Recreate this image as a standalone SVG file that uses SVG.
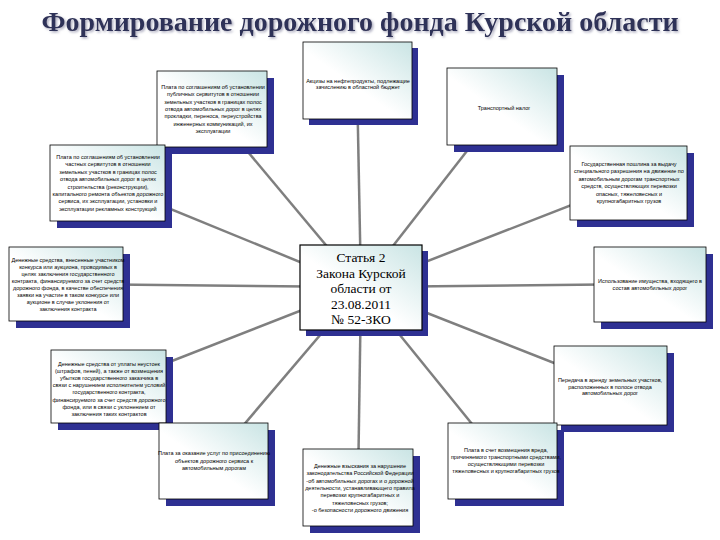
<svg xmlns="http://www.w3.org/2000/svg" width="720" height="540" viewBox="0 0 720 540">
<defs>
<linearGradient id="fill" x1="0" y1="1" x2="1" y2="0">
<stop offset="0" stop-color="#ffffff"/>
<stop offset="0.45" stop-color="#ffffff"/>
<stop offset="1" stop-color="#c9e4e4"/>
</linearGradient>
<filter id="ts" x="-5%" y="-20%" width="110%" height="150%">
<feDropShadow dx="1.5" dy="1.5" stdDeviation="0.8" flood-color="#9a9ab0" flood-opacity="0.8"/>
</filter>
</defs>
<style>
.sh{fill:#2e3092}
.bx{fill:url(#fill);stroke:#000;stroke-width:0.8}
.t{font-family:"Liberation Sans",Arial,sans-serif;font-size:5.5px;fill:#000;text-anchor:middle}
.c{font-family:"Liberation Serif","Times New Roman",serif;font-size:13.5px;fill:#000;text-anchor:middle}
.title{font-family:"Liberation Serif","Times New Roman",serif;font-size:28px;font-weight:bold;fill:#2f3258;text-anchor:middle}
.ln{stroke:#7f7f7f;stroke-width:2.5;fill:none}
</style>
<rect width="720" height="540" fill="#ffffff"/>
<text class="title" x="360" y="31" filter="url(#ts)">Формирование дорожного фонда Курской области</text>
<g id="connectors">
<line class="ln" x1="361" y1="287" x2="357" y2="80"/>
<line class="ln" x1="361" y1="287" x2="212" y2="109"/>
<line class="ln" x1="361" y1="287" x2="502" y2="106"/>
<line class="ln" x1="361" y1="287" x2="107" y2="183"/>
<line class="ln" x1="361" y1="287" x2="628" y2="183"/>
<line class="ln" x1="361" y1="287" x2="66" y2="284"/>
<line class="ln" x1="361" y1="287" x2="650" y2="284"/>
<line class="ln" x1="361" y1="287" x2="108" y2="386"/>
<line class="ln" x1="361" y1="287" x2="610" y2="385"/>
<line class="ln" x1="361" y1="287" x2="213" y2="461"/>
<line class="ln" x1="361" y1="287" x2="358" y2="487"/>
<line class="ln" x1="361" y1="287" x2="502" y2="461"/>
</g>
<g id="center">
<rect class="sh" x="306" y="251" width="122" height="85"/>
<rect x="300" y="245" width="122" height="85" fill="url(#fill)" stroke="#000" stroke-width="1.2"/>
<text class="c" x="361" y="262"><tspan x="361">Статья 2</tspan><tspan x="361" dy="15.5">Закона Курской</tspan><tspan x="361" dy="15.5">области от</tspan><tspan x="361" dy="15.5">23.08.2011</tspan><tspan x="361" dy="15.5">№ 52-ЗКО</tspan></text>
</g>
<g id="a">
<rect class="sh" x="309" y="48" width="109" height="77"/>
<rect class="bx" x="303" y="42" width="109" height="77"/>
<text class="t" y="83"><tspan x="358">Акцизы на нефтепродукты, подлежащие</tspan><tspan x="358" dy="6">зачислению в областной бюджет</tspan></text>
</g>
<g id="b">
<rect class="sh" x="164" y="78" width="110" height="76"/>
<rect class="bx" x="157" y="71" width="110" height="76"/>
<text class="t" y="89"><tspan x="213">Плата по соглашениям об установлении</tspan><tspan x="213" dy="7.3">публичных сервитутов в отношении</tspan><tspan x="213" dy="7.3">земельных участков в границах полос</tspan><tspan x="213" dy="7.3">отвода автомобильных дорог в целях</tspan><tspan x="213" dy="7.3">прокладки, переноса, переустройства</tspan><tspan x="213" dy="7.3">инженерных коммуникаций, их</tspan><tspan x="213" dy="7.3">эксплуатации</tspan></text>
</g>
<g id="c">
<rect class="sh" x="454" y="75" width="110" height="77"/>
<rect class="bx" x="447" y="68" width="110" height="77"/>
<text class="t" x="504" y="110">Транспортный налог</text>
</g>
<g id="d">
<rect class="sh" x="57" y="152" width="115" height="76"/>
<rect class="bx" x="50" y="145" width="115" height="76"/>
<text class="t" y="159"><tspan x="108">Плата по соглашениям об установлении</tspan><tspan x="108" dy="7.4">частных сервитутов в отношении</tspan><tspan x="108" dy="7.4">земельных участков в границах полос</tspan><tspan x="108" dy="7.4">отвода автомобильных дорог в целях</tspan><tspan x="108" dy="7.4">строительства (реконструкции),</tspan><tspan x="108" dy="7.4">капитального ремонта объектов дорожного</tspan><tspan x="108" dy="7.4">сервиса, их эксплуатации, установки и</tspan><tspan x="108" dy="7.4">эксплуатации рекламных конструкций</tspan></text>
</g>
<g id="e">
<rect class="sh" x="577" y="153" width="117" height="74"/>
<rect class="bx" x="570" y="146" width="117" height="74"/>
<text class="t" y="166"><tspan x="629">Государственная пошлина за выдачу</tspan><tspan x="629" dy="7.4">специального разрешения на движение по</tspan><tspan x="629" dy="7.4">автомобильным дорогам транспортных</tspan><tspan x="629" dy="7.4">средств, осуществляющих перевозки</tspan><tspan x="629" dy="7.4">опасных, тяжеловесных и</tspan><tspan x="629" dy="7.4">крупногабаритных грузов</tspan></text>
</g>
<g id="f">
<rect class="sh" x="16" y="254" width="114" height="74"/>
<rect class="bx" x="9" y="247" width="114" height="74"/>
<text class="t" y="262"><tspan x="68">Денежные средства, внесенные участником</tspan><tspan x="68" dy="7">конкурса или аукциона, проводимых в</tspan><tspan x="68" dy="7">целях заключения государственного</tspan><tspan x="68" dy="7">контракта, финансируемого за счет средств</tspan><tspan x="68" dy="7">дорожного фонда, в качестве обеспечения</tspan><tspan x="68" dy="7">заявки на участие в таком конкурсе или</tspan><tspan x="68" dy="7">аукционе в случае уклонения от</tspan><tspan x="68" dy="7">заключения контракта</tspan></text>
</g>
<g id="g">
<rect class="sh" x="601" y="254" width="112" height="75"/>
<rect class="bx" x="594" y="247" width="112" height="75"/>
<text class="t" y="283"><tspan x="650">Использование имущества, входящего в</tspan><tspan x="650" dy="6.5">состав автомобильных дорог</tspan></text>
</g>
<g id="h">
<rect class="sh" x="58" y="357" width="115" height="73"/>
<rect class="bx" x="51" y="350" width="115" height="73"/>
<text class="t" y="366"><tspan x="109">Денежные средства от уплаты неустоек</tspan><tspan x="109" dy="7.1">(штрафов, пеней), а также от возмещения</tspan><tspan x="109" dy="7.1">убытков государственного заказчика в</tspan><tspan x="109" dy="7.1">связи с нарушением исполнителем условий</tspan><tspan x="109" dy="7.1">государственного контракта,</tspan><tspan x="109" dy="7.1">финансируемого за счет средств дорожного</tspan><tspan x="109" dy="7.1">фонда, или в связи с уклонением от</tspan><tspan x="109" dy="7.1">заключения таких контрактов</tspan></text>
</g>
<g id="i">
<rect class="sh" x="561" y="353" width="113" height="79"/>
<rect class="bx" x="554" y="346" width="113" height="79"/>
<text class="t" y="382"><tspan x="610">Передача в аренду земельных участков,</tspan><tspan x="610" dy="6.5">расположенных в полосе отвода</tspan><tspan x="610" dy="6.5">автомобильных дорог</tspan></text>
</g>
<g id="j">
<rect class="sh" x="166" y="430" width="109" height="76"/>
<rect class="bx" x="159" y="423" width="109" height="76"/>
<text class="t" y="455"><tspan x="214">Плата за оказание услуг по присоединению</tspan><tspan x="214" dy="7.5">объектов дорожного сервиса к</tspan><tspan x="214" dy="7.5">автомобильным дорогам</tspan></text>
</g>
<g id="k">
<rect class="sh" x="310" y="456" width="110" height="77"/>
<rect class="bx" x="303" y="449" width="110" height="77"/>
<text class="t" y="468"><tspan x="360">Денежные взыскания за нарушение</tspan><tspan x="360" dy="7.3">законодательства Российской Федерации</tspan><tspan x="360" dy="7.3">-об автомобильных дорогах и о дорожной</tspan><tspan x="360" dy="7.3">деятельности, устанавливающего правила</tspan><tspan x="360" dy="7.3">перевозки крупногабаритных и</tspan><tspan x="360" dy="7.3">тяжеловесных грузов;</tspan><tspan x="360" dy="7.3">-о безопасности дорожного движения</tspan></text>
</g>
<g id="l">
<rect class="sh" x="455" y="430" width="109" height="76"/>
<rect class="bx" x="448" y="423" width="109" height="76"/>
<text class="t" y="452"><tspan x="506">Плата в счет возмещения вреда,</tspan><tspan x="506" dy="7">причиняемого транспортными средствами,</tspan><tspan x="506" dy="7">осуществляющими перевозки</tspan><tspan x="506" dy="7">тяжеловесных и крупногабаритных грузов</tspan></text>
</g>
</svg>
